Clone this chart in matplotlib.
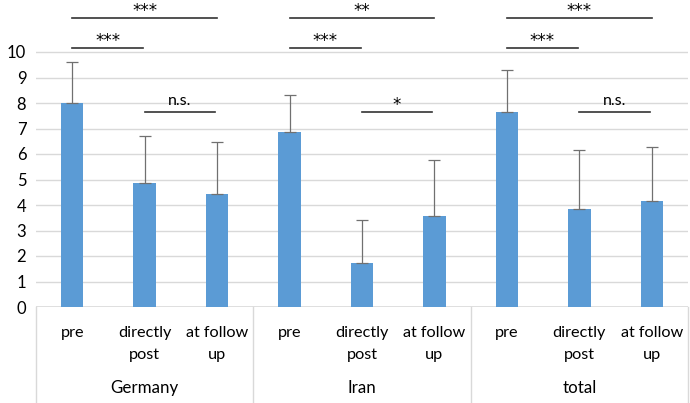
import numpy as np
import matplotlib.pyplot as plt

plt.rcParams['font.family'] = ['Lato', 'DejaVu Sans']

groups = ['Germany', 'Iran', 'total']
times = ['pre', 'directly\npost', 'at follow\nup']
means = [8.0, 4.87, 4.42, 6.85, 1.72, 3.55, 7.65, 3.85, 4.15]
sds = [1.62, 1.85, 2.05, 1.45, 1.68, 2.23, 1.63, 2.30, 2.12]

# significance labels per group and bracket heights
sig_pre_fu = ['***', '**', '***']
sig_pre_dp = ['***', '***', '***']
sig_dp_fu = ['n.s.', '*', 'n.s.']
h_pre_fu = 11.33
h_pre_dp = 10.17
h_dp_fu = 7.65

bar_color = '#5b9bd5'
grid_color = '#d9d9d9'

fig = plt.figure(figsize=(6.9, 4.03), dpi=100)
ax = fig.add_axes([36/690, 96/403, 652/690, 306/403])

x = np.arange(len(means))
ax.bar(x, means, width=0.31, color=bar_color, zorder=3)
ax.errorbar(x, means, yerr=[np.zeros(len(sds)), sds], fmt='none',
            ecolor='#707070', elinewidth=0.9, capsize=4, capthick=0.9, zorder=4)

ax.set_xlim(-0.5, len(means) - 0.5)
ax.set_ylim(0, 12)
ax.set_yticks(range(0, 11))
for v in range(1, 11):
    ax.axhline(v, color=grid_color, lw=1, zorder=1)
ax.axhline(0, color=grid_color, lw=1.2, zorder=2)
for s in ax.spines.values():
    s.set_visible(False)
ax.tick_params(axis='y', length=0, labelsize=12, pad=7)
ax.tick_params(axis='x', bottom=False, labelbottom=False)

# category axis below
for i, t in enumerate(times * len(groups)):
    lines = t.split('\n')
    for k, ln in enumerate(lines):
        ax.text(i, -1.02 - 0.86 * k, ln, ha='center', va='center',
                fontsize=11.7, clip_on=False)
for g, name in enumerate(groups):
    ax.text(3 * g + 1, -3.18, name, ha='center', va='center',
            fontsize=12.2, clip_on=False)
for b in range(len(groups) + 1):
    ax.plot([3 * b - 0.5, 3 * b - 0.5], [0, -3.77], color=grid_color,
            lw=1, clip_on=False)

# significance lines
for g in range(len(groups)):
    p, d, f = 3 * g, 3 * g + 1, 3 * g + 2
    for a, b, h, lab in [(p, f, h_pre_fu, sig_pre_fu[g]),
                         (p, d - 0.02, h_pre_dp, sig_pre_dp[g]),
                         (d, f - 0.03, h_dp_fu, sig_dp_fu[g])]:
        ax.plot([a, b], [h, h], color='#333333', lw=1.2, zorder=5)
        if '*' in lab:
            ax.text((a + b) / 2, h - 0.08, lab, ha='center', va='bottom',
                    fontsize=12, family='DejaVu Sans', zorder=5, clip_on=False)
        else:
            ax.text((a + b) / 2, h + 0.15, lab, ha='center', va='bottom',
                    fontsize=11.5, zorder=5)

fig.savefig('out.png')
